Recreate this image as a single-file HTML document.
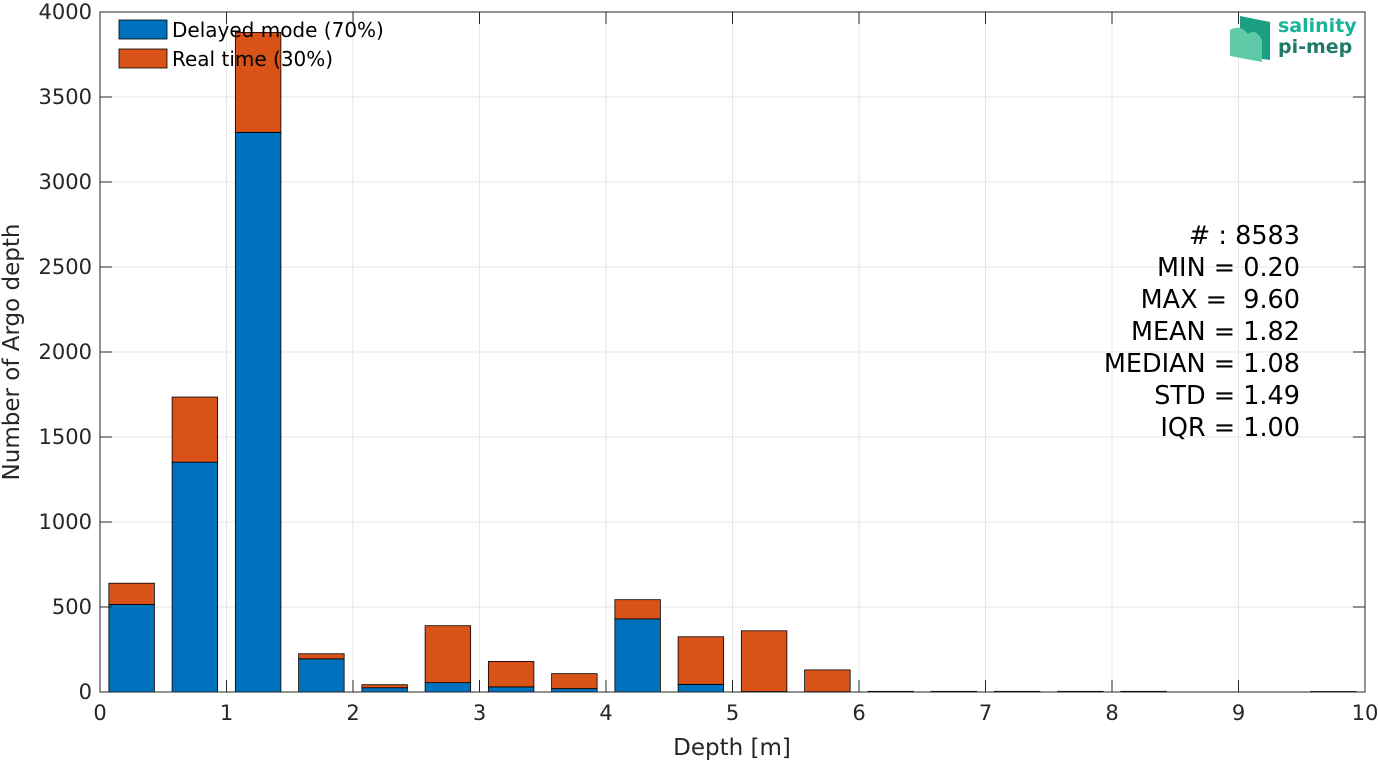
<!DOCTYPE html>
<html><head><meta charset="utf-8"><style>
body{margin:0;background:#fff;}
svg text{font-family:"DejaVu Sans","Liberation Sans",sans-serif;}
</style></head><body>
<svg id="chart" width="1378" height="763" xmlns="http://www.w3.org/2000/svg">
<g id="grid"></g>
<g id="bars"></g>
<g id="axes"></g>
<g>
<g><rect x="119" y="20" width="48" height="19" fill="#0072bd" stroke="#000" stroke-width="0.8"/><text x="172" y="37" font-size="20">Delayed mode (70%)</text></g>
<g><rect x="119" y="49" width="48" height="19" fill="#d95319" stroke="#000" stroke-width="0.8"/><text x="172" y="66" font-size="20">Real time (30%)</text></g>
</g>
<g font-size="25.5" text-anchor="end" fill="#000">
<text x="1300" y="244"># : 8583</text>
<text x="1300" y="276">MIN = 0.20</text>
<text x="1300" y="308" xml:space="preserve">MAX =  9.60</text>
<text x="1300" y="340">MEAN = 1.82</text>
<text x="1300" y="372">MEDIAN = 1.08</text>
<text x="1300" y="404">STD = 1.49</text>
<text x="1300" y="436">IQR = 1.00</text>
</g>
<g>
<path d="M1240 16 L1270 22 L1270 60 L1240 56 Z" fill="#1a9e84"/>
<path d="M1230 30 Q1240 24 1248 34 Q1256 28 1262 40 L1262 62 L1230 56 Z" fill="#5fcaa8"/>
<text x="1278" y="32" font-size="19" font-weight="bold" fill="#17b497">salinity</text>
<text x="1278" y="53" font-size="19" font-weight="bold" fill="#1f7a6a">pi-mep</text>
</g>
<text x="732" y="755" font-size="23" text-anchor="middle" fill="#262626">Depth [m]</text>
<text transform="translate(19,352) rotate(-90)" font-size="23" text-anchor="middle" fill="#262626">Number of Argo depth</text>
</svg>
<script>
const binCenters=[0.25,0.75,1.25,1.75,2.25,2.75,3.25,3.75,4.25,4.75,5.25,5.75,6.25,6.75,7.25,7.75,8.25,8.75,9.25,9.75];
const delayedCounts=[515,1352,3292,195,25,55,30,20,430,45,3,2,2,2,2,2,2,0,0,1];
const realtimeCounts=[125,383,588,30,18,335,150,88,113,280,357,128,2,2,2,2,2,0,0,2];
const xTicks=[0,1,2,3,4,5,6,7,8,9,10];
const yTicks=[0,500,1000,1500,2000,2500,3000,3500,4000];
const X0=100,X1=1365,Y0=692,Y1=12;
const xs=v=>X0+(v-0)/(10-0)*(X1-X0);
const ys=v=>Y0-(v-0)/(4000-0)*(Y0-Y1);
const NS="http://www.w3.org/2000/svg";
function mk(t,a,p){const e=document.createElementNS(NS,t);for(const k in a)e.setAttribute(k,a[k]);p.appendChild(e);return e;}
const grid=document.getElementById('grid'),bars=document.getElementById('bars'),axes=document.getElementById('axes');
xTicks.forEach(t=>{
 const g=mk('line',{x1:xs(t),x2:xs(t),y1:Y1,y2:Y0,stroke:'#e6e6e6','stroke-width':1},grid);
 
 
 const tk=mk('line',{x1:xs(t),x2:xs(t),y1:Y0,y2:Y0-12,stroke:'#262626','stroke-width':1},axes);
 
 
 const tk2=mk('line',{x1:xs(t),x2:xs(t),y1:Y1,y2:Y1+12,stroke:'#262626','stroke-width':1},axes);
 
 
 const l=mk('text',{x:xs(t),y:Y0+28,'font-size':21,'text-anchor':'middle',fill:'#262626'},axes);
 l.textContent=t;
 
 
});
yTicks.forEach(t=>{
 const g=mk('line',{x1:X0,x2:X1,y1:ys(t),y2:ys(t),stroke:'#e6e6e6','stroke-width':1},grid);
 
 
 const tk=mk('line',{x1:X0,x2:X0+12,y1:ys(t),y2:ys(t),stroke:'#262626','stroke-width':1},axes);
 
 
 const tk2=mk('line',{x1:X1,x2:X1-12,y1:ys(t),y2:ys(t),stroke:'#262626','stroke-width':1},axes);
 
 
 const l=mk('text',{x:X0-8,y:ys(t)+7,'font-size':21,'text-anchor':'end',fill:'#262626'},axes);
 l.textContent=t;
 
 
});
const bw=0.36;
binCenters.forEach((c,i)=>{
 const d=delayedCounts[i],r=realtimeCounts[i];
 if(d+r<=0)return;
 const x=xs(c-bw/2),w=xs(c+bw/2)-x;
 const b1=mk('rect',{x:x,y:ys(d),width:w,height:ys(0)-ys(d),fill:'#0072bd',stroke:'#000','stroke-width':0.8},bars);
 
 
 const b2=mk('rect',{x:x,y:ys(d+r),width:w,height:ys(d)-ys(d+r),fill:'#d95319',stroke:'#000','stroke-width':0.8},bars);
 
 
});
const box=mk('rect',{x:X0,y:Y1,width:X1-X0,height:Y0-Y1,fill:'none',stroke:'#262626','stroke-width':1},axes);


</script>
</body></html>
